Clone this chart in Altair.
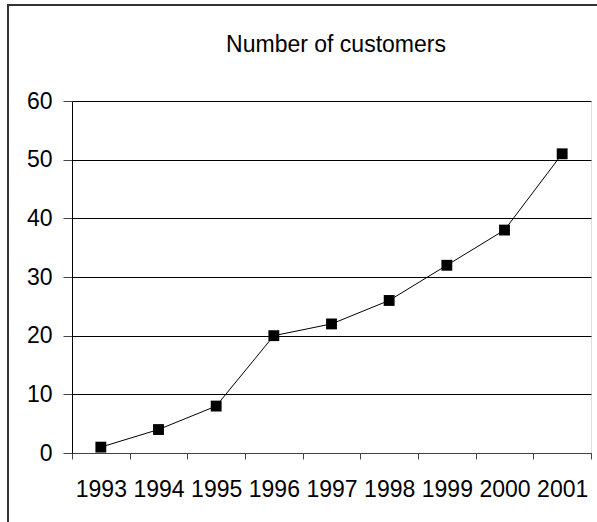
import altair as alt
import pandas as pd

years = ["1993", "1994", "1995", "1996", "1997", "1998", "1999", "2000", "2001"]
customers = [1, 4, 8, 20, 22, 26, 32, 38, 51]

df = pd.DataFrame({"year": years, "customers": customers})

FONT = "Liberation Sans"
FS = 23

x = alt.X("year:N", sort=years, title=None,
          scale=alt.Scale(paddingInner=0, paddingOuter=0),
          axis=alt.Axis(labelAngle=0, tickBand="extent", labelFontSize=FS,
                        labelFont=FONT, labelColor="black", labelPadding=19,
                        tickSize=6, tickColor="#444", domainColor="#444",
                        grid=False))
y = alt.Y("customers:Q", title=None,
          scale=alt.Scale(domain=[0, 60], nice=False),
          axis=alt.Axis(values=[0, 10, 20, 30, 40, 50, 60], labelFontSize=FS,
                        labelFont=FONT, labelColor="black", labelPadding=11,
                        tickSize=9, tickColor="#444", domainColor="black",
                        grid=True, gridColor="black", gridWidth=1, gridOpacity=1))

line = alt.Chart(df).mark_line(color="black", strokeWidth=1).encode(x=x, y=y)
pts = alt.Chart(df).mark_point(shape="square", filled=True, color="black",
                               size=118, opacity=1).encode(x=x, y=y)

frame_left = alt.Chart(df).mark_rule(stroke="#333", strokeWidth=2).encode(
    x=alt.value(-64), y=alt.value(-97), y2=alt.value(700))
frame_top = alt.Chart(df).mark_rule(stroke="#333", strokeWidth=2).encode(
    x=alt.value(-65), x2=alt.value(700), y=alt.value(-96))

title = alt.Chart(pd.DataFrame({"t": ["Number of customers"]})).mark_text(
    font=FONT, fontSize=FS, color="black", align="center", baseline="alphabetic"
).encode(text="t:N", x=alt.value(264), y=alt.value(-49))

chart = alt.layer(frame_left, frame_top, line, pts, title).properties(
    width=519, height=352,
    autosize=alt.AutoSizeParams(type="none"),
    padding={"left": 72, "top": 101, "right": 6, "bottom": 69},
).configure_view(stroke=None).configure(background="white")

chart.save("out.html", embed_options={"renderer": "svg", "actions": False})
